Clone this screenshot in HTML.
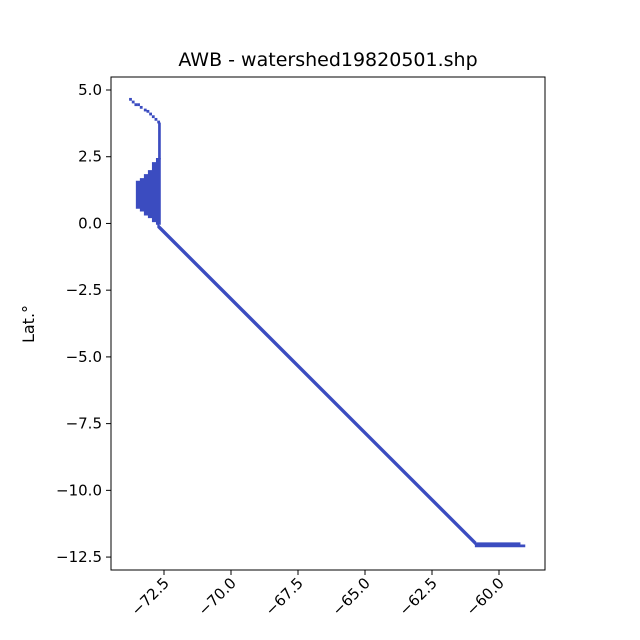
<!DOCTYPE html>
<html><head><meta charset="utf-8">
<style>
body{margin:0;background:#fff;}
svg{display:block;font-family:"DejaVu Sans","Liberation Sans",sans-serif;}
</style></head>
<body>
<svg id="chart" width="640" height="640" xmlns="http://www.w3.org/2000/svg">
<rect width="640" height="640" fill="#fff"/>
<text x="328" y="66" font-size="19" text-anchor="middle">AWB - watershed19820501.shp</text>
<g id="marks"></g>
<rect x="111" y="77" width="434" height="493" fill="none" stroke="#000" stroke-width="1"/>
<g id="axes"></g>
<text transform="translate(34,324) rotate(-90)" font-size="16" text-anchor="middle">Lat.°</text>
</svg>
<script>
const xTicks=[-72.5,-70.0,-67.5,-65.0,-62.5,-60.0];
const yTicks=[5.0,2.5,0.0,-2.5,-5.0,-7.5,-10.0,-12.5];
const trailLon=[-73.75,-73.65,-73.55,-73.45,-73.35,-73.2,-73.1,-73.0,-72.9,-72.8,-72.7];
const trailLat=[4.65,4.55,4.45,4.45,4.35,4.25,4.2,4.1,4.0,3.9,3.8];
const stemLon=[-72.72,-72.62,-72.62,-72.72];
const stemLat=[3.78,3.78,2.4,2.4];
const blobLon=[-72.62,-72.62,-72.8,-72.8,-72.95,-72.95,-73.1,-73.1,-73.25,-73.25,-73.4,-73.4,-73.55,-73.55,-73.4,-73.4,-73.25,-73.25,-73.1,-73.1,-72.95,-72.95,-72.8,-72.8,-72.62];
const blobLat=[2.45,2.45,2.45,2.3,2.3,2.0,2.0,1.85,1.85,1.7,1.7,1.6,1.6,0.55,0.55,0.45,0.45,0.3,0.3,0.2,0.2,0.05,0.05,-0.05,-0.05];
const diagLon=[-72.75,-60.85,-60.85,-72.75];
const diagLat=[0.02,-11.92,-12.1,-0.16];
const barLon=[-60.9,-59.2,-59.2,-59.02,-59.02,-60.9];
const barLat=[-11.95,-11.95,-12.03,-12.03,-12.13,-12.13];
const fx=v=>231+(v+70)*26.8, fy=v=>90+(5-v)*26.69;
const NS='http://www.w3.org/2000/svg';
const marks=document.getElementById('marks'), axes=document.getElementById('axes');
function poly(lons,lats,name){
  const p=document.createElementNS(NS,'polygon');
  p.setAttribute('points',lons.map((l,i)=>fx(l)+','+fy(lats[i])).join(' '));
  p.setAttribute('fill','#3b4cc0');
  
  
  marks.appendChild(p);
}
trailLon.forEach((l,i)=>{
  const r=document.createElementNS(NS,'rect');
  r.setAttribute('x',fx(l)-1.4);r.setAttribute('y',fy(trailLat[i])-1.4);
  r.setAttribute('width',2.8);r.setAttribute('height',2.8);r.setAttribute('fill','#3b4cc0');
  
  
  marks.appendChild(r);
});
poly(stemLon,stemLat,'vertical-stem');
poly(blobLon,blobLat,'headwater-blob');
poly(diagLon,diagLat,'diagonal-channel');
poly(barLon,barLat,'outlet-bar');
xTicks.forEach(t=>{
  const x=fx(t);
  const l=document.createElementNS(NS,'line');
  l.setAttribute('x1',x);l.setAttribute('x2',x);l.setAttribute('y1',570);l.setAttribute('y2',575);l.setAttribute('stroke','#000');
  
  
  axes.appendChild(l);
  const tx=document.createElementNS(NS,'text');
  tx.setAttribute('transform',`translate(${x+6},${584}) rotate(-45)`);
  tx.setAttribute('text-anchor','end');tx.setAttribute('font-size','15');
  tx.textContent='\u2212'+Math.abs(t).toFixed(1);
  
  
  axes.appendChild(tx);
});
yTicks.forEach(t=>{
  const y=fy(t);
  const l=document.createElementNS(NS,'line');
  l.setAttribute('x1',106);l.setAttribute('x2',111);l.setAttribute('y1',y);l.setAttribute('y2',y);l.setAttribute('stroke','#000');
  
  
  axes.appendChild(l);
  const tx=document.createElementNS(NS,'text');
  tx.setAttribute('x',102);tx.setAttribute('y',y+5);
  tx.setAttribute('text-anchor','end');tx.setAttribute('font-size','15');
  tx.textContent=(t<0?'\u2212':'')+Math.abs(t).toFixed(1);
  
  
  axes.appendChild(tx);
});
</script>
</body></html>
